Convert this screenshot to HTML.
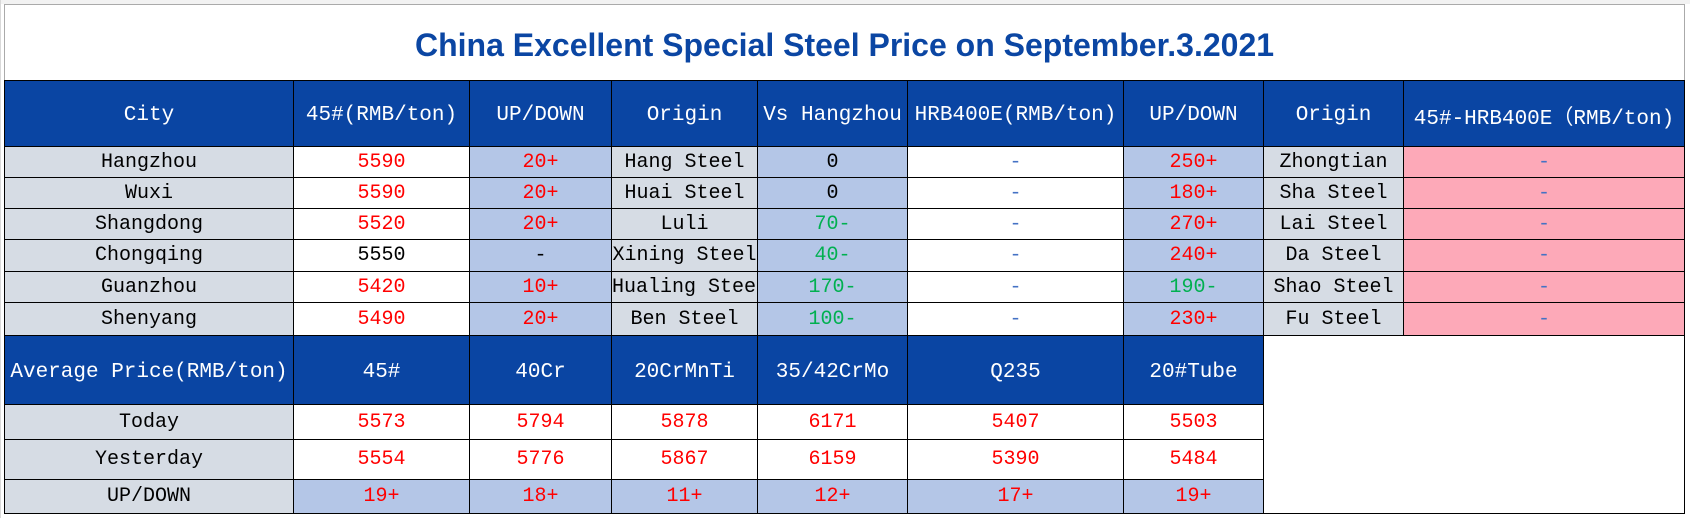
<!DOCTYPE html>
<html><head><meta charset="utf-8"><style>
html,body{margin:0;padding:0;background:#fff;width:1690px;height:518px;overflow:hidden}
table{position:absolute;left:4px;top:4px;border-collapse:collapse;table-layout:fixed;width:1680px}
td{border:1.5px solid #000;text-align:center;vertical-align:middle;padding:0;font-family:"Liberation Mono","Noto Sans CJK SC",monospace;font-size:20px;white-space:nowrap;overflow:hidden;color:#000}
td.t{border:1px solid #aaa;border-bottom:1.5px solid #000;font-family:"Liberation Sans",Arial,sans-serif;font-weight:bold;font-size:32px;color:#0b46a3;padding-top:6px}
.h{background:#0a45a3;color:#fff;font-size:21px;padding-top:4px}
.g{background:#d6dce4}
.b{background:#b4c6e7}
.p{background:#fda9b8}
.r{color:#ff0000}
.gr{color:#00b050}
.d{color:#4472c4}
.gl{position:absolute;background:#d9d9d9}
</style></head><body>
<div class="gl" style="left:0;top:0;width:1690px;height:4px;background:#f2f2f2"></div>
<div class="gl" style="left:0;top:0;width:1px;height:518px"></div>
<table>
<colgroup><col style="width:289px"><col style="width:176px"><col style="width:142px"><col style="width:146px"><col style="width:150px"><col style="width:216px"><col style="width:140px"><col style="width:140px"><col style="width:281px"></colgroup>
<tr style="height:76px"><td class="t" colspan="9">China Excellent Special Steel Price on September.3.2021</td></tr>
<tr style="height:66px"><td class="h">City</td><td class="h">45#(RMB/ton)</td><td class="h">UP/DOWN</td><td class="h">Origin</td><td class="h">Vs Hangzhou</td><td class="h">HRB400E(RMB/ton)</td><td class="h">UP/DOWN</td><td class="h">Origin</td><td class="h">45#-HRB400E（RMB/ton)</td></tr>
<tr style="height:31px"><td class="g">Hangzhou</td><td class="r">5590</td><td class="b r">20+</td><td class="g">Hang Steel</td><td class="b">0</td><td class="d">-</td><td class="b r">250+</td><td class="g">Zhongtian</td><td class="p d">-</td></tr>
<tr style="height:31px"><td class="g">Wuxi</td><td class="r">5590</td><td class="b r">20+</td><td class="g">Huai Steel</td><td class="b">0</td><td class="d">-</td><td class="b r">180+</td><td class="g">Sha Steel</td><td class="p d">-</td></tr>
<tr style="height:31px"><td class="g">Shangdong</td><td class="r">5520</td><td class="b r">20+</td><td class="g">Luli</td><td class="b gr">70-</td><td class="d">-</td><td class="b r">270+</td><td class="g">Lai Steel</td><td class="p d">-</td></tr>
<tr style="height:32px"><td class="g">Chongqing</td><td>5550</td><td class="b">-</td><td class="g">Xining Steel</td><td class="b gr">40-</td><td class="d">-</td><td class="b r">240+</td><td class="g">Da Steel</td><td class="p d">-</td></tr>
<tr style="height:31px"><td class="g">Guanzhou</td><td class="r">5420</td><td class="b r">10+</td><td class="g">Hualing Steel</td><td class="b gr">170-</td><td class="d">-</td><td class="b gr">190-</td><td class="g">Shao Steel</td><td class="p d">-</td></tr>
<tr style="height:33px"><td class="g">Shenyang</td><td class="r">5490</td><td class="b r">20+</td><td class="g">Ben Steel</td><td class="b gr">100-</td><td class="d">-</td><td class="b r">230+</td><td class="g">Fu Steel</td><td class="p d">-</td></tr>
<tr style="height:69px"><td class="h">Average Price(RMB/ton)</td><td class="h">45#</td><td class="h">40Cr</td><td class="h">20CrMnTi</td><td class="h">35/42CrMo</td><td class="h">Q235</td><td class="h">20#Tube</td><td colspan="2" rowspan="4" style="background:#fff"></td></tr>
<tr style="height:35px"><td class="g">Today</td><td class="r">5573</td><td class="r">5794</td><td class="r">5878</td><td class="r">6171</td><td class="r">5407</td><td class="r">5503</td></tr>
<tr style="height:40px"><td class="g">Yesterday</td><td class="r">5554</td><td class="r">5776</td><td class="r">5867</td><td class="r">6159</td><td class="r">5390</td><td class="r">5484</td></tr>
<tr style="height:34px"><td class="g">UP/DOWN</td><td class="b r">19+</td><td class="b r">18+</td><td class="b r">11+</td><td class="b r">12+</td><td class="b r">17+</td><td class="b r">19+</td></tr>
</table>
</body></html>
